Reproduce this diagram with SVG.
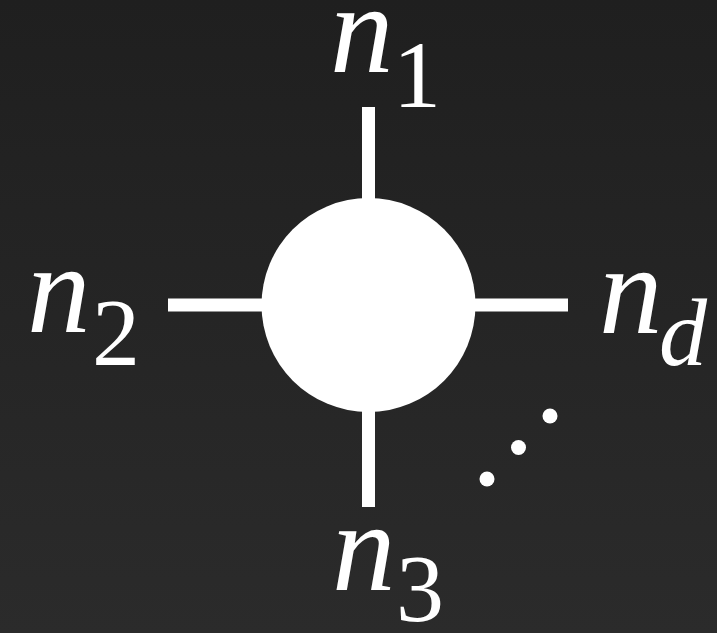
<svg xmlns="http://www.w3.org/2000/svg" width="717" height="633" viewBox="0 0 717 633">
  <defs>
    <linearGradient id="bg" x1="0" y1="0" x2="0" y2="1">
      <stop offset="0" stop-color="#1f1f1f"/>
      <stop offset="1" stop-color="#2b2b2b"/>
    </linearGradient>
  </defs>
  <style>
    .leg { stroke: #ffffff; stroke-width: 13; fill: none; }
    .dot { fill: #ffffff; }
  </style>
  <rect x="0" y="0" width="717" height="633" fill="url(#bg)"/>
  <g id="connectors">
    <line class="leg" x1="368.5" y1="107" x2="368.5" y2="210"/>
    <line class="leg" x1="168" y1="305" x2="270" y2="305"/>
    <line class="leg" x1="467" y1="305" x2="568" y2="305"/>
    <line class="leg" x1="368.5" y1="400" x2="368.5" y2="507"/>
  </g>
  <g id="tensor">
    <circle cx="368.5" cy="305" r="107" fill="#ffffff"/>
  </g>
  <g fill="#ffffff" font-family="'Liberation Serif', 'DejaVu Serif', serif">
    <g id="label-n1">
      <text font-style="italic" font-size="127" x="330" y="72">n</text>
      <text font-size="96" x="393" y="107">1</text>
    </g>
    <g id="label-n2">
      <text font-style="italic" font-size="127" x="27" y="332">n</text>
      <text font-size="96" x="92" y="365">2</text>
    </g>
    <g id="label-nd">
      <text font-style="italic" font-size="127" x="599" y="333">n</text>
      <text font-style="italic" font-size="96" x="659" y="365">d</text>
    </g>
    <g id="label-n3">
      <text font-style="italic" font-size="127" x="332" y="590">n</text>
      <text font-size="96" x="396" y="621">3</text>
    </g>
  </g>
  <g id="ellipsis">
    <circle class="dot" cx="487" cy="479" r="7.5"/>
    <circle class="dot" cx="518.5" cy="447.5" r="7.5"/>
    <circle class="dot" cx="550" cy="416" r="7.5"/>
  </g>
</svg>
